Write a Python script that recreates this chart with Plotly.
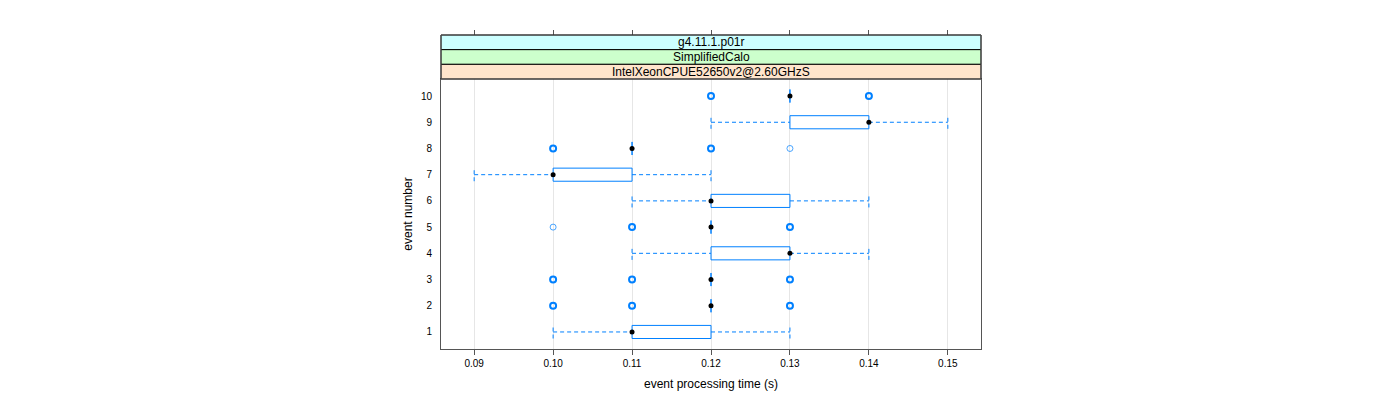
import plotly.graph_objects as go

# ---- data ----
events = [1, 2, 3, 4, 5, 6, 7, 8, 9, 10]
lower_whisker = [0.10, 0.12, 0.12, 0.11, 0.12, 0.11, 0.09, 0.11, 0.12, 0.13]
q1 = [0.11, 0.12, 0.12, 0.12, 0.12, 0.12, 0.10, 0.11, 0.13, 0.13]
median = [0.11, 0.12, 0.12, 0.13, 0.12, 0.12, 0.10, 0.11, 0.14, 0.13]
q3 = [0.12, 0.12, 0.12, 0.13, 0.12, 0.13, 0.11, 0.11, 0.14, 0.13]
upper_whisker = [0.13, 0.12, 0.12, 0.14, 0.12, 0.14, 0.12, 0.11, 0.15, 0.13]

outlier_event = [2, 2, 2, 3, 3, 3, 5, 5, 5, 8, 8, 8, 10, 10]
outlier_value = [0.10, 0.11, 0.13, 0.10, 0.11, 0.13, 0.10, 0.11, 0.13, 0.10, 0.12, 0.13, 0.12, 0.14]
outlier_count = [2, 2, 2, 2, 2, 2, 1, 2, 2, 2, 2, 1, 2, 2]

x_ticks = [0.09, 0.10, 0.11, 0.12, 0.13, 0.14, 0.15]
strip_labels = ["g4.11.1.p01r", "SimplifiedCalo", "IntelXeonCPUE52650v2@2.60GHzS"]
strip_colors = ["#CCFFFF", "#CCFFCC", "#FFE5CC"]

BLUE = "#0080ff"
HALF = 0.25
FONT = "Liberation Sans, Arial, sans-serif"

# ---- build geometry from data ----
bx, by = [], []
wx, wy = [], []
for e, lw, a, b, uw in zip(events, lower_whisker, q1, q3, upper_whisker):
    bx += [a, b, b, a, a, None]
    by += [e - HALF, e - HALF, e + HALF, e + HALF, e - HALF, None]
    if lw < a:
        wx += [lw, a, None, lw, lw, None]
        wy += [e, e, None, e - HALF, e + HALF, None]
    if uw > b:
        wx += [b, uw, None, uw, uw, None]
        wy += [e, e, None, e - HALF, e + HALF, None]

fig = go.Figure()
fig.add_trace(go.Scatter(x=wx, y=wy, mode="lines",
                         line=dict(color=BLUE, width=1, dash="4px,3px"),
                         hoverinfo="skip", showlegend=False))
fig.add_trace(go.Scatter(x=bx, y=by, mode="lines",
                         line=dict(color=BLUE, width=1),
                         hoverinfo="skip", showlegend=False))
fig.add_trace(go.Scatter(x=outlier_value, y=outlier_event, mode="markers",
                         marker=dict(symbol="circle-open", size=6, color=BLUE,
                                     line=dict(color=BLUE,
                                               width=[2 if c > 1 else 1 for c in outlier_count]),
                                     opacity=[1 if c > 1 else 0.7 for c in outlier_count]),
                         showlegend=False))
fig.add_trace(go.Scatter(x=median, y=events, mode="markers",
                         marker=dict(symbol="circle", size=5, color="black"),
                         showlegend=False))
# invisible trace carrying the top tick axis
fig.add_trace(go.Scatter(x=x_ticks, y=[1] * len(x_ticks), xaxis="x2", yaxis="y",
                         mode="markers", marker=dict(opacity=0),
                         hoverinfo="skip", showlegend=False))

W, H = 1400, 400
mt, mb, ml, mr = 27, 59, 433, 427
plot_h = H - mt - mb
panel_h = 348 - 78
dom_top = panel_h / plot_h

xr = [0.0858, 0.1542]
fig.update_layout(
    width=W, height=H,
    margin=dict(l=ml, r=mr, t=mt, b=mb),
    paper_bgcolor="white", plot_bgcolor="white",
    font=dict(family=FONT, size=12, color="black"),
    xaxis=dict(range=xr, tickvals=x_ticks, tickformat=".2f",
               showgrid=True, gridcolor="#e6e6e6", gridwidth=1,
               zeroline=False, showline=True, linecolor="#555555", linewidth=1,
               mirror=True, ticks="outside", ticklen=5, tickcolor="#555555",
               tickfont=dict(size=10),
               title=dict(text="event processing time (s)", font=dict(size=12), standoff=11)),
    xaxis2=dict(range=xr, tickvals=x_ticks, overlaying="x", side="top",
                anchor="free", position=1,
                showticklabels=False, showgrid=False, zeroline=False,
                ticks="outside", ticklen=5, tickcolor="#555555", showline=False),
    yaxis=dict(range=[0.35, 10.65], domain=[0, dom_top], tickvals=events,
               showgrid=False, zeroline=False, showline=True,
               linecolor="#555555", linewidth=1, mirror=True, ticks="",
               tickfont=dict(size=10), ticklabelstandoff=6,
               title=dict(text="event number", font=dict(size=12), standoff=5)),
)

# strips
n = len(strip_labels)
sh = (1 - dom_top) / n
for i, (lab, col) in enumerate(zip(strip_labels, strip_colors)):
    y1 = 1 - i * sh
    y0 = y1 - sh
    fig.add_shape(type="rect", xref="paper", yref="paper", x0=0, x1=1, y0=y0, y1=y1,
                  fillcolor=col, line=dict(color="black", width=1), layer="above")
    fig.add_annotation(xref="paper", yref="paper", x=0.5, y=(y0 + y1) / 2, text=lab,
                       showarrow=False, font=dict(size=12, color="black"),
                       xanchor="center", yanchor="middle")
fig.add_shape(type="rect", xref="paper", yref="paper", x0=0, x1=1, y0=dom_top, y1=1,
              fillcolor="rgba(0,0,0,0)", line=dict(color="#555555", width=1), layer="above")

fig.write_html("out.html")
